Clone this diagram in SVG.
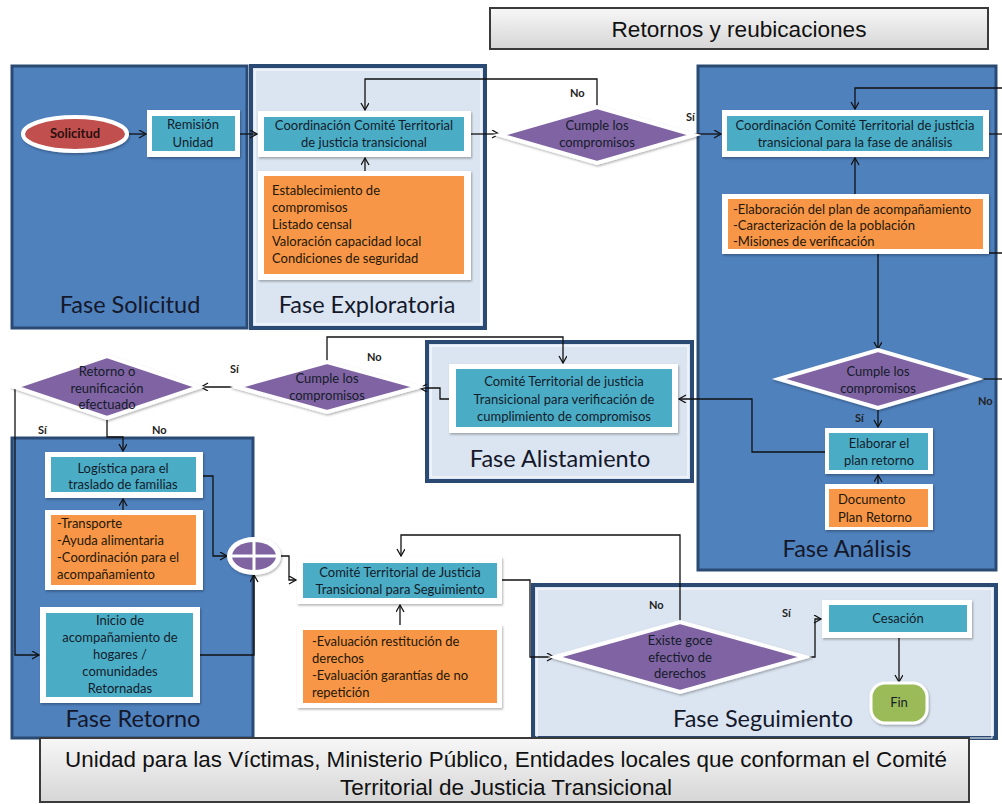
<svg xmlns="http://www.w3.org/2000/svg" width="1002" height="804" viewBox="0 0 1002 804">
<defs>
<marker id="a" markerWidth="10" markerHeight="10" refX="8" refY="4" orient="auto" markerUnits="userSpaceOnUse">
<path d="M1,0 L8,4 L1,8" fill="none" stroke="#111" stroke-width="1.3"/>
</marker>
<filter id="sh" x="-10%" y="-10%" width="130%" height="140%">
<feDropShadow dx="1" dy="1.5" stdDeviation="1.2" flood-color="#000" flood-opacity="0.3"/>
</filter>
<linearGradient id="gb" x1="0" y1="0" x2="0" y2="1">
<stop offset="0" stop-color="#f7f7f7"/>
<stop offset="1" stop-color="#d6d6d6"/>
</linearGradient>
</defs>
<style>
.panel{fill:#4f81bd;stroke:#2a4a74;stroke-width:3}
.panelL{fill:#dbe5f1;stroke:#2a4a74;stroke-width:4}
.inset{fill:none;stroke:#fff;stroke-width:1}
.wb{fill:#fff;filter:url(#sh)}
.teal{fill:#4bacc6}
.org{fill:#f79646}
.dia{fill:#8064a2;stroke:#fff;stroke-width:4;filter:url(#sh)}
.t{font-family:Lato,"Liberation Sans",sans-serif;font-size:13px;fill:#141c2a;text-anchor:middle}
.tl{font-family:Lato,"Liberation Sans",sans-serif;font-size:13px;fill:#24160a;text-anchor:start}
.ph{font-family:Lato,"Liberation Sans",sans-serif;font-size:23.5px;fill:#14182a;text-anchor:middle}
.lbl{font-family:Lato,"Liberation Sans",sans-serif;font-size:11px;font-weight:bold;fill:#222}
.c{fill:none;stroke:#111;stroke-width:1.3;marker-end:url(#a)}
.cn{fill:none;stroke:#111;stroke-width:1.3}
.hdr{fill:url(#gb);stroke:#3a3a3a;stroke-width:2}
.ht{font-family:"Liberation Sans",Arial,sans-serif;font-size:22px;fill:#111;text-anchor:middle}
</style>

<!-- Title -->
<g id="title">
<rect class="hdr" x="490" y="8" width="498" height="41"/>
<text class="ht" x="739" y="37" textLength="255" lengthAdjust="spacingAndGlyphs">Retornos y reubicaciones</text>
</g>

<!-- Phase panels -->
<g id="fase-solicitud">
<rect class="panel" x="12" y="66" width="235" height="262"/>
<text class="ph" x="130" y="313">Fase Solicitud</text>
</g>
<g id="fase-exploratoria">
<rect class="panelL" x="251" y="66" width="234" height="262"/>
<rect class="inset" x="255" y="70" width="226" height="254"/>
<text class="ph" x="367" y="313">Fase Exploratoria</text>
</g>
<g id="fase-analisis">
<rect class="panel" x="698" y="66" width="298" height="504"/>
<text class="ph" x="847" y="557">Fase Análisis</text>
</g>
<g id="fase-alistamiento">
<rect class="panelL" x="427" y="342" width="265" height="139"/>
<rect class="inset" x="431" y="346" width="257" height="131"/>
<text class="ph" x="560" y="467">Fase Alistamiento</text>
</g>
<g id="fase-retorno">
<rect class="panel" x="12" y="438" width="241" height="300"/>
<text class="ph" x="133" y="727">Fase Retorno</text>
</g>
<g id="fase-seguimiento">
<rect class="panelL" x="533" y="585" width="463" height="153"/>
<rect class="inset" x="537" y="589" width="455" height="149"/>
<text class="ph" x="763" y="727">Fase Seguimiento</text>
</g>

<!-- Connectors -->
<g id="connectors">
<path class="c" d="M127,134 H146"/>
<path class="c" d="M240,134 H257"/>
<path class="c" d="M471,134 H499"/>
<path class="c" d="M597,107 V79 H365 V110"/>
<path class="c" d="M365,171 V158"/>
<path class="c" d="M694,134 H721"/>
<path class="c" d="M1002,88 H855 V109"/>
<path class="cn" d="M989,134 H1002"/>
<path class="c" d="M855,194 V158"/>
<path class="c" d="M1002,253 H878 V349"/>
<path class="cn" d="M977,379 H1002"/>
<path class="c" d="M878,408 V427"/>
<path class="c" d="M878,484 V475"/>
<path class="c" d="M829,452 H752 V399 H679"/>
<path class="c" d="M449,399 H440 V388 H420"/>
<path class="c" d="M327,362 V337 H563 V363"/>
<path class="c" d="M237,387 H201"/>
<path class="c" d="M107,418 V437 H123 V451"/>
<path class="c" d="M15,387 V655 H39"/>
<path class="c" d="M123,510 V499"/>
<path class="c" d="M200,476 H213 V556 H227"/>
<path class="c" d="M197,655 H254 V575"/>
<path class="c" d="M280,556 H289 V580 H296"/>
<path class="c" d="M400,625 V605"/>
<path class="c" d="M502,580 H530 V657 H554"/>
<path class="c" d="M680,622 V535 H401 V556"/>
<path class="c" d="M805,657 H815 V619 H821"/>
<path class="c" d="M899,638 V682"/>
</g>

<!-- Connector labels -->
<g id="labels">
<text class="lbl" x="570" y="97">No</text>
<text class="lbl" x="686" y="121">Sí</text>
<text class="lbl" x="978" y="405">No</text>
<text class="lbl" x="855" y="422">Sí</text>
<text class="lbl" x="367" y="361">No</text>
<text class="lbl" x="230" y="373">Sí</text>
<text class="lbl" x="38" y="434">Sí</text>
<text class="lbl" x="152" y="434">No</text>
<text class="lbl" x="649" y="609">No</text>
<text class="lbl" x="782" y="617">Sí</text>
</g>

<!-- Nodes -->
<g id="solicitud">
<ellipse cx="75" cy="134" rx="52" ry="17" fill="#c0504d" stroke="#fff" stroke-width="4" filter="url(#sh)"/>
<text class="t" x="75" y="138" font-weight="bold" style="fill:#2a1010">Solicitud</text>
</g>
<g id="remision">
<rect class="wb" x="147" y="110" width="93" height="47"/>
<rect class="teal" x="152" y="116" width="83" height="35"/>
<text class="t" x="193" y="129">Remisión</text>
<text class="t" x="193" y="147">Unidad</text>
</g>
<g id="coord-exploratoria">
<rect class="wb" x="258" y="111" width="213" height="46"/>
<rect class="teal" x="264" y="117" width="200" height="34"/>
<text class="t" x="364" y="130">Coordinación Comité  Territorial</text>
<text class="t" x="364" y="147">de justicia transicional</text>
</g>
<g id="acciones-exploratoria">
<rect class="wb" x="258" y="171" width="213" height="109"/>
<rect class="org" x="264" y="176" width="200" height="98"/>
<text class="tl" x="272" y="195">Establecimiento de</text>
<text class="tl" x="272" y="212">compromisos</text>
<text class="tl" x="272" y="229">Listado censal</text>
<text class="tl" x="272" y="246">Valoración capacidad  local</text>
<text class="tl" x="272" y="263">Condiciones de seguridad</text>
</g>
<g id="decision-exploratoria">
<polygon class="dia" points="500,135 597,107 694,135 597,163"/>
<text class="t" x="597" y="130">Cumple los</text>
<text class="t" x="597" y="147">compromisos</text>
</g>
<g id="coord-analisis">
<rect class="wb" x="722" y="110" width="267" height="47"/>
<rect class="teal" x="727" y="116" width="256" height="35"/>
<text class="t" x="855" y="130">Coordinación Comité  Territorial de justicia</text>
<text class="t" x="855" y="147">transicional para la fase de análisis</text>
</g>
<g id="acciones-analisis">
<rect class="wb" x="722" y="194" width="267" height="60"/>
<rect class="org" x="728" y="199" width="255" height="50"/>
<text class="tl" x="733" y="214">-Elaboración del plan de acompañamiento</text>
<text class="tl" x="733" y="230">-Caracterización de la población</text>
<text class="tl" x="733" y="246">-Misiones de verificación</text>
</g>
<g id="decision-analisis">
<polygon class="dia" points="779,379 878,350 977,379 878,408"/>
<text class="t" x="878" y="376">Cumple los</text>
<text class="t" x="878" y="393">compromisos</text>
</g>
<g id="elaborar-plan">
<rect class="wb" x="825" y="428" width="108" height="46"/>
<rect class="teal" x="829" y="433" width="99" height="37"/>
<text class="t" x="879" y="448">Elaborar el</text>
<text class="t" x="879" y="465">plan retorno</text>
</g>
<g id="documento-plan">
<rect class="wb" x="825" y="484" width="108" height="46"/>
<rect class="org" x="829" y="489" width="99" height="38"/>
<text class="tl" x="838" y="504">Documento</text>
<text class="tl" x="838" y="522">Plan Retorno</text>
</g>
<g id="comite-alistamiento">
<rect class="wb" x="449" y="364" width="229" height="69"/>
<rect class="teal" x="456" y="369" width="216" height="58"/>
<text class="t" x="564" y="386">Comité Territorial de justicia</text>
<text class="t" x="564" y="404">Transicional para verificación de</text>
<text class="t" x="564" y="421">cumplimiento de compromisos</text>
</g>
<g id="decision-alistamiento">
<polygon class="dia" points="237,387 327,362 418,387 327,412"/>
<text class="t" x="327" y="383">Cumple los</text>
<text class="t" x="327" y="400">compromisos</text>
</g>
<g id="decision-retorno">
<polygon class="dia" points="15,387 107,356 199,387 107,418"/>
<text class="t" x="107" y="376">Retorno o</text>
<text class="t" x="107" y="393">reunificación</text>
<text class="t" x="107" y="409">efectuado</text>
</g>
<g id="logistica">
<rect class="wb" x="45" y="452" width="158" height="46"/>
<rect class="teal" x="51" y="457" width="145" height="35"/>
<text class="t" x="123" y="473">Logística para el</text>
<text class="t" x="123" y="489">traslado de familias</text>
</g>
<g id="acciones-retorno">
<rect class="wb" x="45" y="510" width="158" height="80"/>
<rect class="org" x="51" y="515" width="145" height="70"/>
<text class="tl" x="57" y="528">-Transporte</text>
<text class="tl" x="57" y="545">-Ayuda alimentaria</text>
<text class="tl" x="57" y="562">-Coordinación para el</text>
<text class="tl" x="57" y="579">acompañamiento</text>
</g>
<g id="inicio-acompanamiento">
<rect class="wb" x="40" y="607" width="160" height="96"/>
<rect class="teal" x="46" y="613" width="147" height="84"/>
<text class="t" x="120" y="625">Inicio de</text>
<text class="t" x="120" y="642">acompañamiento de</text>
<text class="t" x="120" y="659">hogares /</text>
<text class="t" x="120" y="676">comunidades</text>
<text class="t" x="120" y="693">Retornadas</text>
</g>
<g id="union">
<ellipse cx="254" cy="556" rx="27" ry="19" fill="#fff" filter="url(#sh)"/>
<ellipse cx="254" cy="556" rx="22" ry="14" fill="#8064a2"/>
<path d="M231,556 H277 M254,541 V571" stroke="#fff" stroke-width="3"/>
</g>
<g id="comite-seguimiento">
<rect class="wb" x="297" y="557" width="205" height="47"/>
<rect class="teal" x="303" y="563" width="194" height="35"/>
<text class="t" x="400" y="577">Comité Territorial de Justicia</text>
<text class="t" x="400" y="594">Transicional para Seguimiento</text>
</g>
<g id="acciones-seguimiento">
<rect class="wb" x="297" y="625" width="205" height="83"/>
<rect class="org" x="303" y="630" width="194" height="73"/>
<text class="tl" x="312" y="646">-Evaluación restitución de</text>
<text class="tl" x="312" y="663">derechos</text>
<text class="tl" x="312" y="680">-Evaluación garantías de no</text>
<text class="tl" x="312" y="697">repetición</text>
</g>
<g id="decision-seguimiento">
<polygon class="dia" points="555,657 680,622 805,657 680,692"/>
<text class="t" x="680" y="645">Existe goce</text>
<text class="t" x="680" y="662">efectivo de</text>
<text class="t" x="680" y="678">derechos</text>
</g>
<g id="cesacion">
<rect class="wb" x="822" y="600" width="150" height="38"/>
<rect class="teal" x="829" y="605" width="138" height="27"/>
<text class="t" x="898" y="623">Cesación</text>
</g>
<g id="fin">
<rect x="871" y="683" width="56" height="40" rx="14" fill="#9bbb59" stroke="#fff" stroke-width="3" filter="url(#sh)"/>
<text class="t" x="899" y="707">Fin</text>
</g>

<!-- Footer -->
<g id="footer">
<rect class="hdr" x="40" y="738" width="929" height="64"/>
<text class="ht" x="506" y="767" textLength="882" lengthAdjust="spacingAndGlyphs">Unidad para las Víctimas, Ministerio Público, Entidades locales que conforman el Comité</text>
<text class="ht" x="506" y="795" textLength="332" lengthAdjust="spacingAndGlyphs">Territorial de Justicia Transicional</text>
</g>
</svg>
